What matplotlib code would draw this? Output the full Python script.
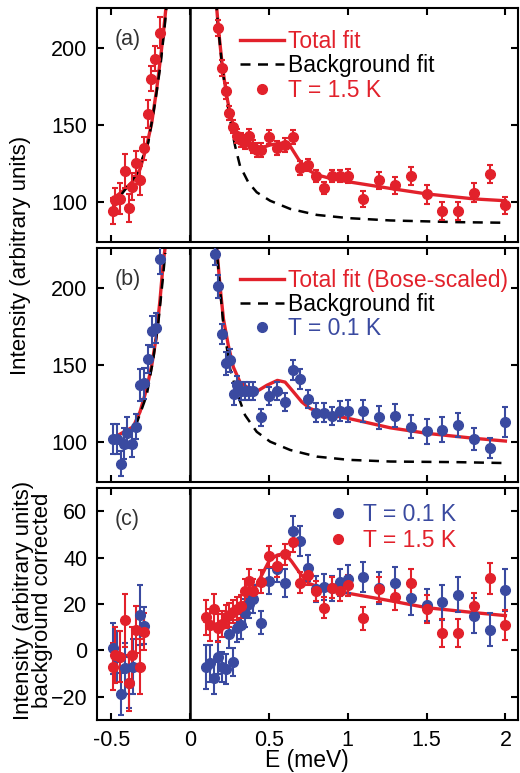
import matplotlib
matplotlib.use('Agg')
import matplotlib.pyplot as plt
from matplotlib.lines import Line2D

plt.rcParams['font.family'] = ['Liberation Sans', 'DejaVu Sans']

RED = '#e2212b'
BLUE = '#3a4aa0'

# (a) T = 1.5 K, raw intensity
a_neg_E = [-0.49, -0.475, -0.445, -0.415, -0.385, -0.365, -0.34, -0.315, -0.29, -0.265, -0.245, -0.22, -0.19]
a_neg_I = [94, 101, 102, 120, 96, 110, 125, 114, 135, 157, 180, 193, 210]
a_neg_err = [8.5, 8, 10, 11, 9, 8.5, 8, 9.5, 7.5, 9, 8, 8, 10]

a_pos_E = [0.175, 0.2, 0.225, 0.25, 0.275, 0.3, 0.325, 0.35, 0.375, 0.4, 0.425, 0.45, 0.5, 0.55, 0.6, 0.65,
           0.7, 0.75, 0.8, 0.85, 0.9, 0.95, 1.0, 1.1, 1.2, 1.3, 1.4, 1.5, 1.6, 1.7, 1.8, 1.9, 2.0]
a_pos_I = [213, 187, 172, 158, 149, 143, 140, 139, 143, 136, 134, 134, 142, 135, 137, 142,
           122, 124, 117, 109, 117, 117, 117, 102, 114, 111, 117, 105, 94, 94, 106, 118, 98]
a_pos_err = [5, 5, 5, 4.5, 4.5, 4.5, 4.5, 4.5, 4.5, 4.5, 4.5, 4.5, 4.5, 4.5, 4.5, 4.5,
             4.5, 4, 4, 4, 4, 4, 4.5, 5, 5.5, 5.5, 6, 6, 6, 6, 6, 6, 5.5]

# (a) fits
fitA_neg_E = [-0.466, -0.423, -0.36, -0.317, -0.275, -0.243, -0.212, -0.186, -0.165, -0.148]
fitA_neg_I = [104, 107.3, 113.7, 121.3, 136.3, 151.4, 173, 194.4, 213.8, 231]
bgA_neg_E = [-0.434, -0.339, -0.265, -0.222, -0.186, -0.159, -0.148]
bgA_neg_I = [105, 118, 138.5, 164.3, 190, 216, 228]
fitA_pos_E = [0.165, 0.18, 0.205, 0.233, 0.258, 0.286, 0.328, 0.392, 0.455, 0.508, 0.561, 0.614, 0.635,
              0.688, 0.741, 0.804, 0.91, 1.005, 1.27, 1.503, 1.8, 2.0]
fitA_pos_I = [231, 212.7, 188, 168.6, 155.7, 146, 139.6, 136.3, 135.3, 137, 138, 138.5, 136.3,
              127.7, 121.3, 117.6, 114.8, 113.1, 108.8, 105.2, 102, 100.8]
bgA_pos_E = [0.165, 0.18, 0.205, 0.233, 0.265, 0.286, 0.317, 0.37, 0.423, 0.508, 0.635, 0.804, 1.005, 1.27, 1.693, 2.0]
bgA_pos_I = [231, 212, 187, 166.5, 147, 136.3, 123.4, 112.7, 106.3, 100.8, 95.5, 91.6, 89.5, 88, 86.9, 86.5]

# (b) T = 0.1 K, raw intensity
b_neg_E = [-0.49, -0.46, -0.44, -0.42, -0.40, -0.37, -0.34, -0.32, -0.29, -0.265, -0.24, -0.215, -0.19]
b_neg_I = [102, 102, 86, 99, 106, 99, 110, 137, 138, 154, 172, 174, 219]
b_neg_err = [10, 10, 8, 10, 10, 9, 8, 10.5, 10, 9, 10, 10, 10]

b_pos_E = [0.16, 0.18, 0.205, 0.23, 0.255, 0.28, 0.30, 0.325, 0.35, 0.375, 0.40, 0.45, 0.5, 0.55, 0.6, 0.65,
           0.7, 0.75, 0.8, 0.85, 0.9, 0.95, 1.0, 1.1, 1.2, 1.3, 1.4, 1.5, 1.6, 1.7, 1.8, 1.9, 2.0]
b_pos_I = [222, 201, 170, 151, 153, 131, 137, 133, 133, 133, 133, 116, 130, 133, 126, 147,
           141, 128, 119, 119, 117, 120, 120, 120, 116, 117, 110, 107, 108, 111, 102, 96, 113]
b_pos_err = [7, 7.5, 6.5, 7.5, 7.5, 7, 6, 6, 6, 6, 6, 5.5, 6, 6, 6, 6.5,
             6.5, 6, 6, 6, 6, 6.5, 7, 7, 7.5, 7.5, 7.5, 8, 8, 7.5, 7, 6.5, 10]

# (b) fits
fitB_neg_E = [-0.455, -0.36, -0.317, -0.275, -0.243, -0.216, -0.19, -0.17, -0.157]
fitB_neg_I = [104.5, 109.9, 119.6, 134.6, 149.7, 166.9, 192.7, 216.3, 227]
bgB_neg_E = [-0.423, -0.339, -0.275, -0.233, -0.201, -0.173, -0.157]
bgB_neg_I = [102.4, 112, 130.3, 154, 177.6, 205.6, 222.8]
fitB_pos_E = [0.169, 0.19, 0.212, 0.243, 0.275, 0.317, 0.37, 0.434, 0.487, 0.554, 0.603, 0.656, 0.709,
              0.762, 0.847, 1.005, 1.27, 1.503, 1.8, 2.0]
fitB_pos_I = [227, 201.3, 179.8, 162.6, 148.6, 138.9, 135, 133.5, 136.8, 140, 138.9, 132.5, 126,
              121.7, 118.5, 115.3, 109.2, 105.6, 102.4, 100.6]
bgB_pos_E = [0.165, 0.19, 0.212, 0.254, 0.296, 0.349, 0.423, 0.508, 0.635, 0.804, 1.005, 1.27, 1.693, 2.0]
bgB_pos_I = [230, 200, 175.5, 147.5, 132.5, 117.4, 106.6, 100.2, 94.8, 90.5, 88.4, 87.3, 86.9, 86.3]

# (c) background corrected
c_blue_neg_E = [-0.49, -0.46, -0.44, -0.415, -0.385, -0.36, -0.315, -0.29]
c_blue_neg_I = [1, -2.7, -18.7, -7.7, -14, -7, 15.3, 10.7]
c_blue_neg_err = [11, 11, 9, 11, 11, 12, 13, 8]
c_red_neg_E = [-0.49, -0.475, -0.445, -0.415, -0.385, -0.37, -0.34, -0.315, -0.29]
c_red_neg_I = [-7, -2, -2.7, 13, -14, -2, 9, -7, 8]
c_red_neg_err = [10, 12, 11, 11.5, 12, 12, 10, 12, 8]

c_pos_E = [0.1, 0.125, 0.15, 0.175, 0.2, 0.225, 0.25, 0.275, 0.3, 0.325, 0.35, 0.375, 0.4, 0.45, 0.5, 0.55,
           0.6, 0.65, 0.7, 0.75, 0.8, 0.85, 0.9, 0.95, 1.0, 1.1, 1.2, 1.3, 1.4, 1.5, 1.6, 1.7, 1.8, 1.9, 2.0]
c_blue_pos_I = [-7, -5.5, -12, -3, -7, -8, 7, -5, 9.5, 11, 16, 20, 22, 12, 30, 35,
                29, 51.5, 47, 35.6, 26.5, 27.4, 26.7, 29.3, 30.8, 31.7, 27, 29, 22.4, 19.6, 20.7, 24, 15, 9, 26]
c_blue_pos_err = [9.5, 8, 7, 7, 6.5, 6.5, 6, 6, 6, 6, 6, 6, 6, 5, 5.5, 5.5,
                  6, 6.5, 6.5, 5.5, 5.5, 5.5, 5.5, 6, 6, 6.5, 7, 7, 7, 7, 7.5, 7.5, 7.5, 7, 9]
c_red_pos_I = [14.3, 11, 18, 9.5, 11.3, 14.5, 15.3, 16.7, 18, 19, 25.6, 30, 25.6, 29.6, 40.6, 36.3,
               41.5, 46.8, 29.2, 32.5, 25.6, 18.4, 27, 25.6, 28, 13.8, 26.3, 23, 29, 18, 7.4, 7.4, 19.3, 31, 11]
c_red_pos_err = [7.5, 7, 6.5, 6, 5.5, 5, 5, 5, 5, 5, 5, 5, 5, 5, 4.5, 4.5,
                 4.5, 4.5, 4.5, 4.5, 4.5, 4.5, 4.5, 4.5, 4.5, 5, 5.5, 5.5, 6, 6, 6, 6, 5.5, 6.5, 6.5]

fitC_E = [0.095, 0.148, 0.212, 0.275, 0.349, 0.423, 0.504, 0.554, 0.603, 0.646, 0.698, 0.751, 0.847,
          1.005, 1.27, 1.503, 1.8, 2.0]
fitC_I = [12.4, 11, 12.4, 15.6, 21, 28.2, 38.9, 41.1, 41.8, 38.2, 33.2, 28.9, 26.7,
          24.6, 21.4, 18.4, 16.3, 15]

x_ticks = [-0.5, 0, 0.5, 1, 1.5, 2]
x_ticklabels = ['-0.5', '0', '0.5', '1', '1.5', '2']
ab_ticks = [100, 150, 200]
c_ticks = [-20, 0, 20, 40, 60]

W, H = 520, 773
fig = plt.figure(figsize=(W / 100, H / 100), dpi=100)


def make_ax(top, bottom):
    ax = fig.add_axes([97 / W, 1 - bottom / H, (518 - 97) / W, (bottom - top) / H])
    ax.set_xlim(-0.59, 2.08)
    ax.set_xticks(x_ticks)
    ax.set_xticklabels(x_ticklabels)
    ax.tick_params(direction='in', length=5, width=1.5, top=True, right=True,
                   labelsize=15.5, pad=7)
    for s in ax.spines.values():
        s.set_linewidth(1.5)
    ax.axvline(0, color='k', lw=1.8, zorder=1)
    return ax


def points(ax, E, I, err, color):
    ax.errorbar(E, I, yerr=err, fmt='o', color=color, ms=7, elinewidth=1.5,
                capsize=2.5, capthick=1.5, zorder=3)


ax_a = make_ax(8, 242)
ax_b = make_ax(248, 482)
ax_c = make_ax(488, 720)

# (a)
ax_a.plot(fitA_neg_E, fitA_neg_I, color=RED, lw=2.4, zorder=2)
ax_a.plot(fitA_pos_E, fitA_pos_I, color=RED, lw=2.4, zorder=2)
ax_a.plot(bgA_neg_E, bgA_neg_I, color='k', lw=1.8, ls=(0, (4, 3)), zorder=2)
ax_a.plot(bgA_pos_E, bgA_pos_I, color='k', lw=1.8, ls=(0, (4, 3)), zorder=2)
points(ax_a, a_neg_E, a_neg_I, a_neg_err, RED)
points(ax_a, a_pos_E, a_pos_I, a_pos_err, RED)
ax_a.set_ylim(74, 226)
ax_a.set_yticks(ab_ticks)
ax_a.tick_params(labelbottom=False)

# (b)
ax_b.plot(fitB_neg_E, fitB_neg_I, color=RED, lw=2.4, zorder=2)
ax_b.plot(fitB_pos_E, fitB_pos_I, color=RED, lw=2.4, zorder=2)
ax_b.plot(bgB_neg_E, bgB_neg_I, color='k', lw=1.8, ls=(0, (4, 3)), zorder=2)
ax_b.plot(bgB_pos_E, bgB_pos_I, color='k', lw=1.8, ls=(0, (4, 3)), zorder=2)
points(ax_b, b_neg_E, b_neg_I, b_neg_err, BLUE)
points(ax_b, b_pos_E, b_pos_I, b_pos_err, BLUE)
ax_b.set_ylim(74, 226)
ax_b.set_yticks(ab_ticks)
ax_b.tick_params(labelbottom=False)

# (c)
ax_c.plot(fitC_E, fitC_I, color=RED, lw=2.4, zorder=2)
points(ax_c, c_blue_neg_E, c_blue_neg_I, c_blue_neg_err, BLUE)
points(ax_c, c_pos_E, c_blue_pos_I, c_blue_pos_err, BLUE)
points(ax_c, c_red_neg_E, c_red_neg_I, c_red_neg_err, RED)
points(ax_c, c_pos_E, c_red_pos_I, c_red_pos_err, RED)
ax_c.set_ylim(-30, 70)
ax_c.set_yticks(c_ticks)


def legend(ax, handles, labels, colors, anchor, hl, pad, spacing):
    leg = ax.legend(handles, labels, loc='upper left', bbox_to_anchor=anchor, frameon=False,
                    fontsize=16.5, handlelength=hl, handletextpad=pad, labelspacing=spacing,
                    borderpad=0, borderaxespad=0)
    for t, c in zip(leg.get_texts(), colors):
        t.set_color(c)


fit_h = Line2D([], [], color=RED, lw=2.4)
bg_h = Line2D([], [], color='k', lw=1.8, ls=(0, (4, 3)))
red_h = Line2D([], [], color=RED, marker='o', ls='none', ms=7)
blue_h = Line2D([], [], color=BLUE, marker='o', ls='none', ms=7)

legend(ax_a, [fit_h, bg_h, red_h], ['Total fit', 'Background fit', 'T = 1.5 K'],
       [RED, 'k', RED], (0.34, 0.905), 1.9, 0.2, 0.05)
legend(ax_b, [fit_h, bg_h, blue_h], ['Total fit (Bose-scaled)', 'Background fit', 'T = 0.1 K'],
       [RED, 'k', BLUE], (0.34, 0.91), 1.9, 0.2, 0.05)
legend(ax_c, [blue_h, red_h], ['T = 0.1 K', 'T = 1.5 K'],
       [BLUE, RED], (0.545, 0.935), 1.0, 0.6, 0.12)

for ax, lab in [(ax_a, '(a)'), (ax_b, '(b)'), (ax_c, '(c)')]:
    ax.text(0.072, 0.865, lab, transform=ax.transAxes, fontsize=15.5, color='#333333',
            ha='center', va='center')

fig.text(21 / W, 1 - 255 / H, 'Intensity (arbitrary units)', rotation=90,
         ha='center', va='center', fontsize=16)
fig.text(33 / W, 1 - 600 / H, 'Intensity (arbitrary units)\nbackground corrected', rotation=90,
         ha='center', va='center', fontsize=16, linespacing=0.85, multialignment='center')
fig.text(307 / W, 1 / H, 'E (meV)', ha='center', va='bottom', fontsize=16.5)

fig.savefig('out.png', dpi=100)
